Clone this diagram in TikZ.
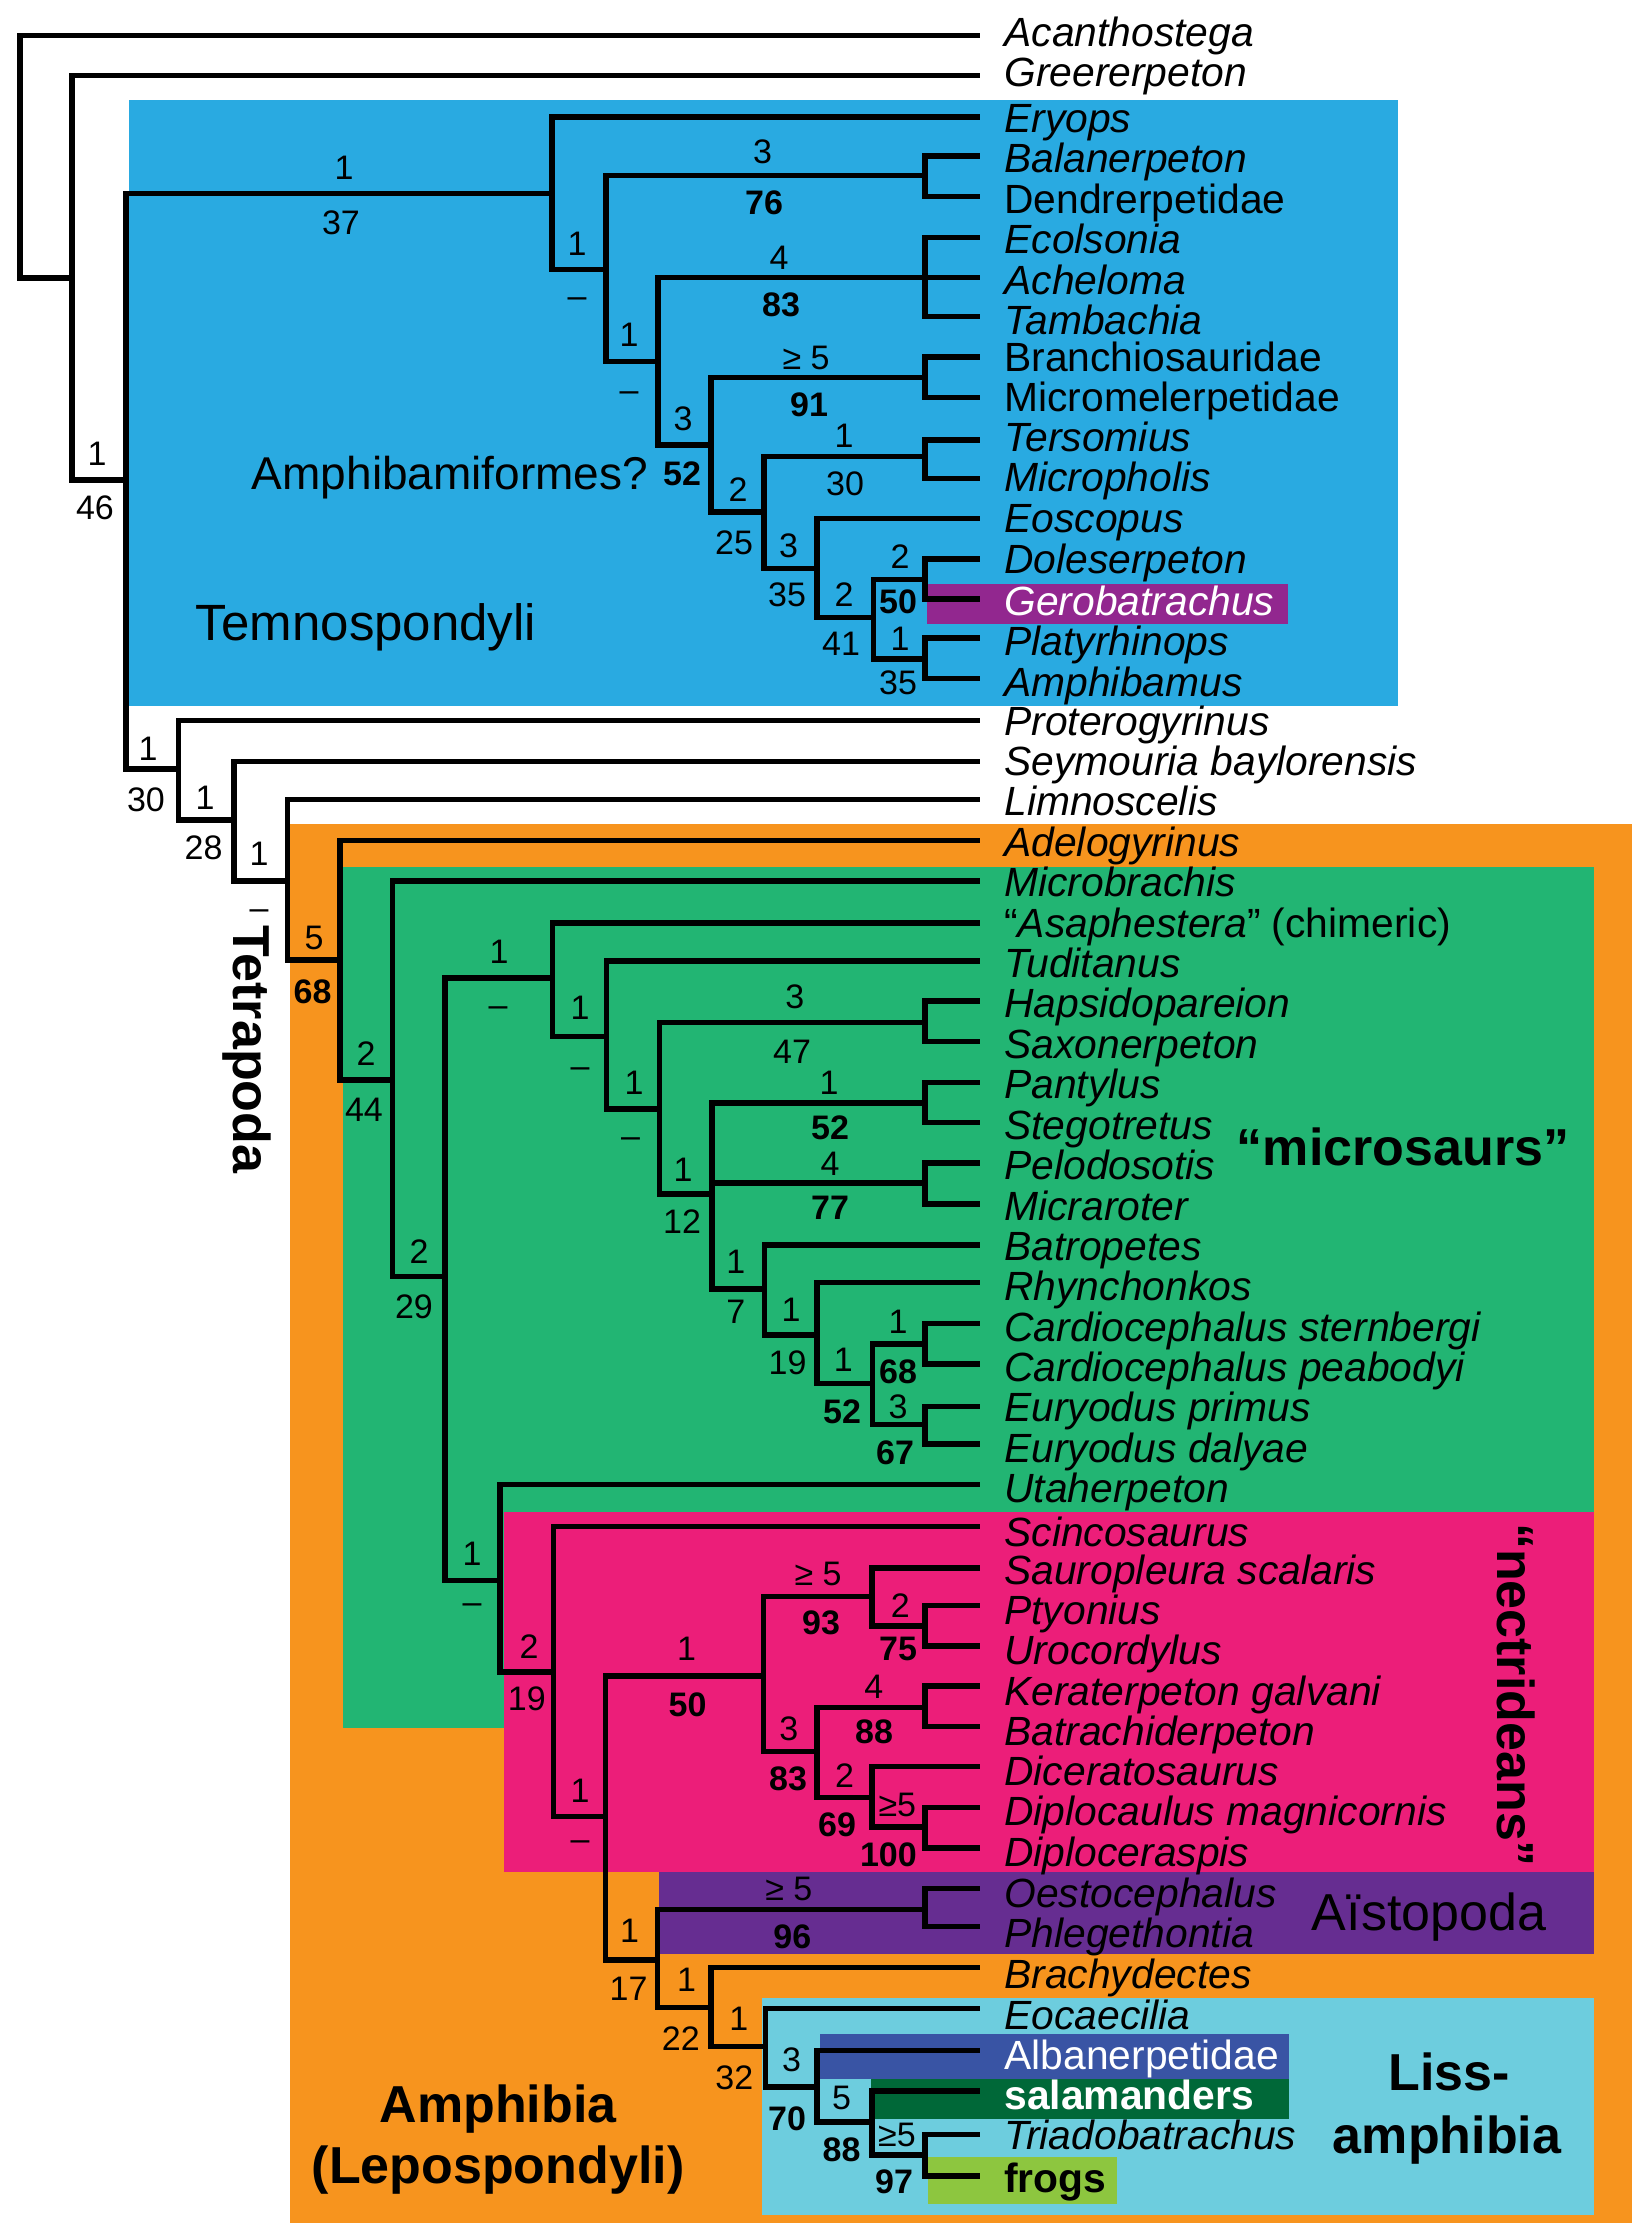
\documentclass[tikz,border=0pt]{standalone}
\usepackage{fontspec}
\setmainfont{Liberation Sans}
\definecolor{temno}{RGB}{41,170,225}
\definecolor{amph}{RGB}{247,148,30}
\definecolor{micro}{RGB}{34,181,115}
\definecolor{nect}{RGB}{236,30,121}
\definecolor{aist}{RGB}{102,45,145}
\definecolor{liss}{RGB}{109,205,222}
\definecolor{alban}{RGB}{57,84,164}
\definecolor{salam}{RGB}{0,104,56}
\definecolor{frog}{RGB}{141,198,63}
\definecolor{gero}{RGB}{146,39,143}
\begin{document}
\begin{tikzpicture}[x=0.5pt,y=-0.5pt,
  br/.style={line width=2.6pt},
  leafit/.style={anchor=base west, inner sep=0pt, font=\fontsize{20.4}{24}\selectfont\itshape},
  leafup/.style={anchor=base west, inner sep=0pt, font=\fontsize{20.4}{24}\selectfont},
  lab/.style={inner sep=0pt, text height=12.2pt, text depth=0pt, font=\fontsize{17}{20}\selectfont},
  labb/.style={inner sep=0pt, text height=12.2pt, text depth=0pt, font=\fontsize{17}{20}\selectfont\bfseries},
  big/.style={inner sep=0pt, anchor=base, font=\fontsize{26}{30}\selectfont\bfseries},
]
\useasboundingbox (0,0) rectangle (1652,2238);
% clade boxes
\fill[temno] (129,99.6) rectangle (1398,706);
\fill[amph] (290.2,823.5) rectangle (1631.5,2223);
\fill[micro] (342.9,867.3) rectangle (1593.5,1727.9);
\fill[nect] (504,1511.8) rectangle (1593.5,1872);
\fill[aist] (659,1872) rectangle (1593.5,1954);
\fill[liss] (762,1997.7) rectangle (1593.5,2214.8);
\fill[alban] (820,2034.4) rectangle (1289,2079);
\fill[salam] (870.5,2079) rectangle (1289,2119);
\fill[frog] (927.7,2156.5) rectangle (1116.8,2204);
\fill[gero] (926.7,584) rectangle (1288,624.4);
% leaf end points
\foreach \i/\y in {1/35.4,2/75.8,3/117,4/156,5/196.5,6/237.8,7/277.8,8/316.8,9/357,10/397.6,
  11/440,12/478.4,13/518.8,14/559,15/599,16/638,17/678.6,18/720.4,19/761.2,20/799.5,
  21/840.3,22/881,23/923,24/961,25/1001,26/1041.8,27/1082.6,28/1122.4,29/1163,30/1204,
  31/1245,32/1282.6,33/1323.5,34/1364,35/1406.6,36/1444,37/1484.7,38/1526.4,39/1568,40/1605.8,
  41/1646,42/1686,43/1726.4,44/1766.6,45/1807.8,46/1848,47/1888.7,48/1926.4,49/1967.6,50/2008.8,
  51/2050.5,52/2091,53/2134.4,54/2176}
  \coordinate (L\i) at (980,\y);
% text baselines of the leaf names
\foreach \i/\d in {1/0,2/0.5,3/5.5,4/5.5,5/5.5,6/5.5,7/5.5,8/5.5,9/1.5,10/1.5,11/1,12/1,13/1,14/1.5,
  15/3,16/3,17/3,18/1.5,19/1.5,20/1,21/1,22/1,23/2,24/1,25/1,26/1,27/1,28/1,29/1,30/1,
  31/1,32/0.5,33/1,34/1,35/0.5,36/0.5,37/0,38/4,39/1,40/1,41/0.5,42/1,43/1,44/0,45/0,46/0,
  47/0.5,48/0,49/1,50/1,51/0.5,52/0.5,53/0.5,54/3}
  \coordinate (B\i) at (1004,{46+40.45*(\i-1)+\d});
% internal nodes (x of vertical bar, y of incoming stem)
\coordinate (R0) at (20,150);
\coordinate (N1) at (72,278);
\coordinate (N2) at (126,480);
\coordinate (T1) at (552,193.3);
\coordinate (T2) at (606,269.5);
\coordinate (T3) at (925,175.4);
\coordinate (T4) at (658,361.3);
\coordinate (T5) at (925,277.8);
\coordinate (T6) at (711,445);
\coordinate (T7) at (925,377.4);
\coordinate (T8) at (764,512);
\coordinate (T9) at (925,456.8);
\coordinate (T10) at (817,568.4);
\coordinate (T11) at (873.6,617.5);
\coordinate (T12) at (925,579.4);
\coordinate (T13) at (925,658.9);
\coordinate (N3) at (178.7,769);
\coordinate (N4) at (234,820);
\coordinate (N5) at (287.3,881);
\coordinate (N6) at (340,960);
\coordinate (N7) at (392.5,1080);
\coordinate (N8) at (445,1276.5);
\coordinate (M1) at (552.7,978);
\coordinate (M2) at (606.7,1036.7);
\coordinate (M3) at (659.3,1109);
\coordinate (M4) at (925,1022.4);
\coordinate (M5) at (712,1194);
\coordinate (M6) at (925,1103);
\coordinate (M7) at (925,1183);
\coordinate (M8) at (764.5,1289);
\coordinate (M9) at (817,1335);
\coordinate (M10) at (872.3,1383.7);
\coordinate (M11) at (925,1343.9);
\coordinate (M12) at (925,1424.5);
\coordinate (Nc) at (500,1580.7);
\coordinate (Nd) at (553.6,1672);
\coordinate (Ne) at (605.8,1816.8);
\coordinate (P1) at (763.4,1676);
\coordinate (P2) at (872,1596.7);
\coordinate (P3) at (925,1626);
\coordinate (P4) at (817,1751.5);
\coordinate (P5) at (925,1707.8);
\coordinate (P6) at (872,1797.7);
\coordinate (P7) at (925,1826.9);
\coordinate (Nf) at (657.6,1960);
\coordinate (A1) at (925,1909.8);
\coordinate (Ng) at (711,2007.8);
\coordinate (Nh) at (765.6,2046.5);
\coordinate (Li1) at (817,2087);
\coordinate (Li2) at (872,2121.9);
\coordinate (Li3) at (925,2155);
% branches
\foreach \p/\c in {R0/L1,R0/N1,N1/L2,N1/N2,N2/T1,N2/N3,T1/L3,T1/T2,T2/T3,T2/T4,T3/L4,T3/L5,
  T4/T5,T4/T6,T5/L6,T5/L7,T5/L8,T6/T7,T6/T8,T7/L9,T7/L10,T8/T9,T8/T10,T9/L11,T9/L12,
  T10/L13,T10/T11,T11/T12,T11/T13,T12/L14,T12/L15,T13/L16,T13/L17,
  N3/L18,N3/N4,N4/L19,N4/N5,N5/L20,N5/N6,N6/L21,N6/N7,N7/L22,N7/N8,N8/M1,N8/Nc,
  M1/L23,M1/M2,M2/L24,M2/M3,M3/M4,M3/M5,M4/L25,M4/L26,M5/M6,M5/M7,M5/M8,M6/L27,M6/L28,
  M7/L29,M7/L30,M8/L31,M8/M9,M9/L32,M9/M10,M10/M11,M10/M12,M11/L33,M11/L34,M12/L35,M12/L36,
  Nc/L37,Nc/Nd,Nd/L38,Nd/Ne,Ne/P1,Ne/Nf,P1/P2,P1/P4,P2/L39,P2/P3,P3/L40,P3/L41,
  P4/P5,P4/P6,P5/L42,P5/L43,P6/L44,P6/P7,P7/L45,P7/L46,Nf/A1,Nf/Ng,A1/L47,A1/L48,
  Ng/L49,Ng/Nh,Nh/L50,Nh/Li1,Li1/L51,Li1/Li2,Li2/L52,Li2/Li3,Li3/L53,Li3/L54}
  \draw[br] (\p) |- (\c);
% leaf labels
\node[leafit] (t1) at (B1) {Acanthostega};
\node[leafit] (t2) at (B2) {Greererpeton};
\node[leafit] (t3) at (B3) {Eryops};
\node[leafit] (t4) at (B4) {Balanerpeton};
\node[leafup] (t5) at (B5) {Dendrerpetidae};
\node[leafit] (t6) at (B6) {Ecolsonia};
\node[leafit] (t7) at (B7) {Acheloma};
\node[leafit] (t8) at (B8) {Tambachia};
\node[leafup] (t9) at (B9) {Branchiosauridae};
\node[leafup] (t10) at (B10) {Micromelerpetidae};
\node[leafit] (t11) at (B11) {Tersomius};
\node[leafit] (t12) at (B12) {Micropholis};
\node[leafit] (t13) at (B13) {Eoscopus};
\node[leafit] (t14) at (B14) {Doleserpeton};
\node[leafit,text=white] (t15) at (B15) {Gerobatrachus};
\node[leafit] (t16) at (B16) {Platyrhinops};
\node[leafit] (t17) at (B17) {Amphibamus};
\node[leafit] (t18) at (B18) {Proterogyrinus};
\node[leafit] (t19) at (B19) {Seymouria baylorensis};
\node[leafit] (t20) at (B20) {Limnoscelis};
\node[leafit] (t21) at (B21) {Adelogyrinus};
\node[leafit] (t22) at (B22) {Microbrachis};
\node[leafup] (t23) at (B23) {“\textit{Asaphestera}” (chimeric)};
\node[leafit] (t24) at (B24) {Tuditanus};
\node[leafit] (t25) at (B25) {Hapsidopareion};
\node[leafit] (t26) at (B26) {Saxonerpeton};
\node[leafit] (t27) at (B27) {Pantylus};
\node[leafit] (t28) at (B28) {Stegotretus};
\node[leafit] (t29) at (B29) {Pelodosotis};
\node[leafit] (t30) at (B30) {Micraroter};
\node[leafit] (t31) at (B31) {Batropetes};
\node[leafit] (t32) at (B32) {Rhynchonkos};
\node[leafit] (t33) at (B33) {Cardiocephalus sternbergi};
\node[leafit] (t34) at (B34) {Cardiocephalus peabodyi};
\node[leafit] (t35) at (B35) {Euryodus primus};
\node[leafit] (t36) at (B36) {Euryodus dalyae};
\node[leafit] (t37) at (B37) {Utaherpeton};
\node[leafit] (t38) at (B38) {Scincosaurus};
\node[leafit] (t39) at (B39) {Sauropleura scalaris};
\node[leafit] (t40) at (B40) {Ptyonius};
\node[leafit] (t41) at (B41) {Urocordylus};
\node[leafit] (t42) at (B42) {Keraterpeton galvani};
\node[leafit] (t43) at (B43) {Batrachiderpeton};
\node[leafit] (t44) at (B44) {Diceratosaurus};
\node[leafit] (t45) at (B45) {Diplocaulus magnicornis};
\node[leafit] (t46) at (B46) {Diploceraspis};
\node[leafit] (t47) at (B47) {Oestocephalus};
\node[leafit] (t48) at (B48) {Phlegethontia};
\node[leafit] (t49) at (B49) {Brachydectes};
\node[leafit] (t50) at (B50) {Eocaecilia};
\node[leafup,text=white] (t51) at (B51) {Albanerpetidae};
\node[leafup,text=white,font=\fontsize{20.4}{24}\selectfont\bfseries] (t52) at (B52) {salamanders};
\node[leafit] (t53) at (B53) {Triadobatrachus};
\node[leafup,font=\fontsize{20.4}{24}\selectfont\bfseries] (t54) at (B54) {frogs};
% branch support labels (regular)
\foreach \x/\y/\t [count=\i] in {344/167.6/1,341/222.7/37,97/453.6/1,95/507/46,577/243.3/1,577/295/–,
  629/334/1,629/389/–,683/418.7/3,762.5/151.5/3,779/257/4,806/357/≥ 5,738/489/2,734/541.8/25,
  844/435/1,845/483/30,788.5/545/3,787/594.6/35,844/594.6/2,841/643.7/41,900/556.5/2,900/638/1,
  898/681.8/35,148/748/1,146/799/30,205/797/1,203.6/847/28,259/853/1,259/907.6/–,314/937/5,
  366/1053/2,364/1109.7/44,419/1251/2,414/1306/29,499/951.5/1,498/1004.6/–,580/1007/1,
  580/1064.8/–,634/1082.6/1,630.6/1135/–,794.7/996/3,792/1051/47,683/1169/1,682/1221/12,
  829/1082.6/1,830/1163/4,735.8/1261/1,735.8/1311/7,791/1309.7/1,787.5/1362/19,843.4/1359/1,
  898/1321.4/1,898/1406.6/3,472/1553/1,472/1600.8/–,529/1646/2,526.8/1698.7/19,580/1790/1,
  580/1838.4/–,686.6/1648.5/1,818/1573/≥ 5,900.4/1604.8/2,788.8/1728/3,873.7/1686/4,
  844.6/1775.6/2,897.3/1804.3/≥5,629.5/1930/1,628.6/1988.7/17,788.8/1888.7/≥ 5,686.6/1979/1,
  680.8/2038/22,738.8/2017.8/1,734.4/2077/32,791.5/2059.5/3,841.5/2097/5,897/2134.4/≥5}
  \node[lab] (s\i) at (\x,\y) {\t};
% branch support labels (bold)
\foreach \x/\y/\t [count=\i] in {682/473/52,764/202/76,781/304/83,809/404/91,898/601.5/50,
  312.6/990.8/68,830/1127.6/52,830/1207.6/77,842/1411.7/52,898/1371/68,895/1452.6/67,
  687.5/1703.8/50,821/1622/93,898/1648.5/75,788/1778/83,874/1731.4/88,837/1824.4/69,
  888.4/1854.5/100,792.4/1936/96,787/2118.4/70,841.5/2149.5/88,894/2181/97}
  \node[labb] (b\i) at (\x,\y) {\t};
% clade names
\node[inner sep=0pt, text height=16.5pt, text depth=0pt, font=\fontsize{23}{28}\selectfont] (amq) at (450,473) {Amphibamiformes?};
\node[inner sep=0pt, text height=18.3pt, text depth=0pt, font=\fontsize{25.5}{30}\selectfont] (temn) at (366,622) {Temnospondyli};
\node[big, rotate=-90] (tetr) at (233.7,1049.5) {Tetrapoda};
\node[big] (micr) at (1403,1165) {“microsaurs”};
\node[big, rotate=-90] (nect) at (1497,1695) {“nectrideans”};
\node[big, font=\fontsize{26}{30}\selectfont] (aist) at (1429,1930) {Aïstopoda};
\node[big] (liss1) at (1449,2090.7) {Liss-};
\node[big] (liss2) at (1447,2153.5) {amphibia};
\node[big] (amp1) at (498,2122) {Amphibia};
\node[big] (amp2) at (498,2183.7) {(Lepospondyli)};
\end{tikzpicture}
\end{document}
